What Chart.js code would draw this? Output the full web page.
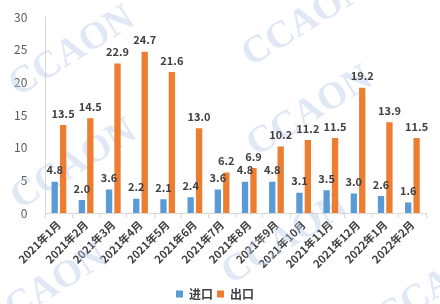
<!DOCTYPE html>
<html>
<head>
<meta charset="utf-8">
<script src="https://cdn.jsdelivr.net/npm/chart.js@4"></script>
<style>
  html, body { margin: 0; padding: 0; background: #fff; }
  #wrap { width: 440px; height: 304px; }
</style>
</head>
<body>
<div id="wrap"><canvas id="tradeChart"></canvas></div>
<script>
var months = ["2021年1月", "2021年2月", "2021年3月", "2021年4月", "2021年5月", "2021年6月", "2021年7月",
    "2021年8月", "2021年9月", "2021年10月", "2021年11月", "2021年12月", "2022年1月", "2022年2月"];
var importValues = [4.8, 2.0, 3.6, 2.2, 2.1, 2.4, 3.6, 4.8, 4.8, 3.1, 3.5, 3.0, 2.6, 1.6];
var exportValues = [13.5, 14.5, 22.9, 24.7, 21.6, 13.0, 6.2, 6.9, 10.2, 11.2, 11.5, 19.2, 13.9, 11.5];
var yTicks = [0, 5, 10, 15, 20, 25, 30];

var cjkFont = '"Noto Sans CJK SC", "Open Sans", sans-serif';

// faint diagonal watermark, tiled like the original
var watermarkPlugin = {
    id: 'watermark',
    beforeDatasetsDraw: function (chart) {
        var ctx = chart.ctx;
        var marks = [[72, 52], [74, 165], [305, 22], [310, 112], [285, 240], [45, 290], [440, 285]];
        ctx.save();
        ctx.fillStyle = 'rgba(185, 205, 230, 0.45)';
        ctx.font = 'bold 38px "Liberation Serif", serif';
        ctx.textAlign = 'center';
        ctx.textBaseline = 'middle';
        marks.forEach(function (m) {
            ctx.save();
            ctx.translate(m[0], m[1]);
            ctx.rotate(-0.55);
            ctx.fillText('CCAON', 0, 0);
            ctx.restore();
        });
        ctx.restore();
    }
};

// value labels above each bar
var valueLabelPlugin = {
    id: 'valueLabels',
    afterDatasetsDraw: function (chart) {
        var ctx = chart.ctx;
        ctx.save();
        ctx.font = 'bold 11px ' + cjkFont;
        ctx.fillStyle = '#404040';
        ctx.textAlign = 'center';
        ctx.textBaseline = 'bottom';
        chart.data.datasets.forEach(function (ds, di) {
            chart.getDatasetMeta(di).data.forEach(function (bar, i) {
                ctx.fillText(ds.data[i].toFixed(1), bar.x, bar.y - 6);
            });
        });
        ctx.restore();
    }
};

new Chart(document.getElementById("tradeChart"), {
    type: 'bar',
    data: {
        labels: months,
        datasets: [{
            label: "进口",
            data: importValues,
            backgroundColor: '#5B9BD5',
            categoryPercentage: 0.62,
            barPercentage: 0.75
        }, {
            label: "出口",
            data: exportValues,
            backgroundColor: '#ED7D31',
            categoryPercentage: 0.62,
            barPercentage: 0.75
        }]
    },
    plugins: [watermarkPlugin, valueLabelPlugin],
    options: {
        responsive: true,
        maintainAspectRatio: false,
        animation: false,
        layout: {
            padding: {left: 4, right: 14, top: 8, bottom: -6}
        },
        plugins: {
            legend: {
                position: 'bottom',
                labels: {
                    boxWidth: 7,
                    boxHeight: 7,
                    padding: 4,
                    color: '#404040',
                    font: {family: cjkFont, size: 12, weight: 'bold'}
                }
            },
            tooltip: {enabled: false}
        },
        scales: {
            x: {
                afterFit: function (axis) {
                    axis.height = 71;
                },
                grid: {
                    display: true,
                    drawOnChartArea: false,
                    drawTicks: true,
                    tickLength: 5,
                    color: '#D9D9D9'
                },
                border: {color: '#D9D9D9'},
                ticks: {
                    minRotation: 45,
                    maxRotation: 45,
                    autoSkip: false,
                    padding: 0,
                    color: '#404040',
                    font: {family: cjkFont, size: 11, weight: 'bold'}
                }
            },
            y: {
                min: 0,
                max: 30,
                afterBuildTicks: function (axis) {
                    axis.ticks = yTicks.map(function (v) { return {value: v}; });
                },
                grid: {display: false},
                border: {display: true, color: '#D9D9D9'},
                ticks: {
                    padding: 10,
                    color: '#595959',
                    font: {family: cjkFont, size: 12}
                }
            }
        }
    }
});
</script>
</body>
</html>
